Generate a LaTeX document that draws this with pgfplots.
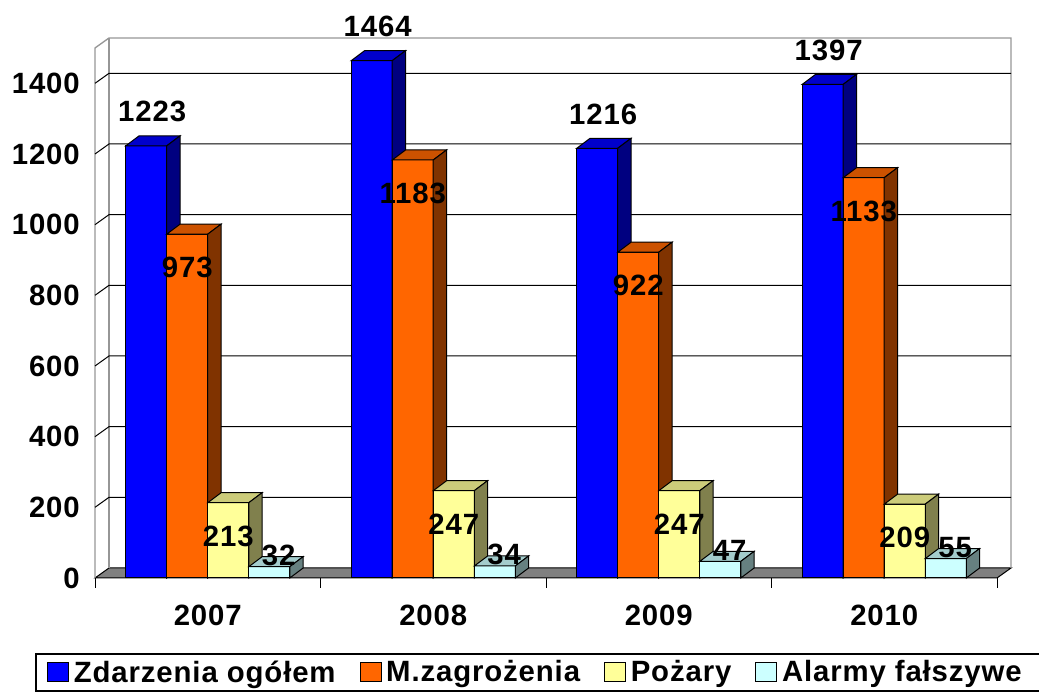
\documentclass[border=0pt]{standalone}
\usepackage{pgfplots}
\pgfplotsset{compat=1.18}
\usepackage{pgfplotstable}
\usepackage{fontspec}
\setmainfont{Liberation Sans}[LetterSpace=3]

\definecolor{fBlue}{RGB}{0,0,255}
\definecolor{tBlue}{RGB}{0,0,204}
\definecolor{sBlue}{RGB}{0,0,128}
\definecolor{fOra}{RGB}{255,102,0}
\definecolor{tOra}{RGB}{204,82,0}
\definecolor{sOra}{RGB}{128,51,0}
\definecolor{fYel}{RGB}{255,255,153}
\definecolor{tYel}{RGB}{204,204,122}
\definecolor{sYel}{RGB}{128,128,77}
\definecolor{fCya}{RGB}{204,255,255}
\definecolor{tCya}{RGB}{163,204,204}
\definecolor{sCya}{RGB}{102,128,128}
\definecolor{wallgray}{RGB}{150,150,150}
\definecolor{floorgray}{RGB}{128,128,128}

\pgfplotstableread{
idx zd mz poz al
0 1223 973 213 32
1 1464 1183 247 34
2 1216 922 247 47
3 1397 1133 209 55
}\data

\def\hw{15.375pt}
\def\dX{10pt}
\def\dY{7.5pt}
\newcommand\declarebox[4]{%
  \pgfdeclareplotmark{#1}{%
    \pgfmathsetlengthmacro\barH{\val*0.265pt}%
    \pgfsetlinewidth{0.75pt}%
    \pgfsetstrokecolor{black}%
    \pgfsetfillcolor{#2}%
    \pgfpathrectanglecorners{\pgfpoint{-\hw}{0pt}}{\pgfpoint{\hw}{-\barH}}%
    \pgfusepath{fill,stroke}%
    \pgfsetfillcolor{#4}%
    \pgfpathmoveto{\pgfpoint{-\hw}{0pt}}%
    \pgfpathlineto{\pgfpoint{-\hw+\dX}{\dY}}%
    \pgfpathlineto{\pgfpoint{\hw+\dX}{\dY}}%
    \pgfpathlineto{\pgfpoint{\hw}{0pt}}%
    \pgfpathclose
    \pgfusepath{fill,stroke}%
    \pgfsetfillcolor{#3}%
    \pgfpathmoveto{\pgfpoint{\hw}{0pt}}%
    \pgfpathlineto{\pgfpoint{\hw+\dX}{\dY}}%
    \pgfpathlineto{\pgfpoint{\hw+\dX}{\dY-\barH}}%
    \pgfpathlineto{\pgfpoint{\hw}{-\barH}}%
    \pgfpathclose
    \pgfusepath{fill,stroke}%
  }}
\declarebox{boxA}{fBlue}{sBlue}{tBlue}
\declarebox{boxB}{fOra}{sOra}{tOra}
\declarebox{boxC}{fYel}{sYel}{tYel}
\declarebox{boxD}{fCya}{sCya}{tCya}

\newcommand\lblfont{\fontsize{22}{26}\selectfont\bfseries}

\begin{document}
\begin{tikzpicture}
\useasboundingbox (0,0) rectangle (779.25pt,521.25pt);
\begin{axis}[
  at={(71.25pt,87.75pt)}, anchor=south west,
  scale only axis, width=676.5pt, height=397.5pt,
  xmin=0, xmax=4, ymin=0, ymax=1500,
  clip=false,
  axis line style={draw=none},
  major tick style={draw=none},
  ytick={0,200,...,1400},
  xtick={0.5,1.5,2.5,3.5},
  xticklabels={2007,2008,2009,2010},
  tick label style={font=\lblfont},
  yticklabel style={anchor=east, inner sep=0pt, xshift=-11.25pt},
  xticklabel style={anchor=center, inner sep=0pt, yshift=-27.75pt},
  /pgf/number format/.cd, 1000 sep={}, assume math mode=true, /pgfplots/.cd,
  every node near coord/.append style={font=\lblfont, anchor=center, inner sep=0pt},
  legend columns=4,
  legend style={at={(axis description cs:-0.0665,-0.1415)}, anchor=north west,
    draw=black, line width=1.3pt, font=\fontsize{22}{26}\selectfont\bfseries,
    inner xsep=8.5pt, inner ysep=5pt,
    nodes={inner sep=0pt},
    /tikz/every odd column/.append style={column sep=3.5pt},
    /tikz/every even column/.append style={column sep=18pt}},
  legend image code/.code={\draw[#1, line width=0.75pt] (0pt,-7.1pt) rectangle (15.75pt,7.1pt);},
  scatter/use mapped color={draw=black, fill=black},
]
% floor
\filldraw[fill=floorgray, draw=black, line width=0.75pt] (axis cs:0,0) -- (axis cs:4,0)
  -- ([xshift=10.5pt,yshift=7.5pt]axis cs:4,0) -- ([xshift=10.5pt,yshift=7.5pt]axis cs:0,0) -- cycle;
% walls
\draw[wallgray, line width=1pt] (axis cs:0,0) -- (axis cs:0,1500)
  -- ([xshift=10.5pt,yshift=7.5pt]axis cs:0,1500) -- ([xshift=10.5pt,yshift=7.5pt]axis cs:4,1500)
  -- ([xshift=10.5pt,yshift=7.5pt]axis cs:4,0);
\draw[wallgray, line width=1pt] ([xshift=10.5pt,yshift=7.5pt]axis cs:0,0) -- ([xshift=10.5pt,yshift=7.5pt]axis cs:0,1500);
% grid
\pgfplotsinvokeforeach{200,400,600,800,1000,1200,1400}{
  \draw[black, line width=0.75pt] (axis cs:0,#1) -- ([xshift=10.5pt,yshift=7.5pt]axis cs:0,#1)
    -- ([xshift=10.5pt,yshift=7.5pt]axis cs:4,#1);
}
% category ticks
\pgfplotsinvokeforeach{0,1,2,3,4}{
  \draw[black, line width=0.75pt] (axis cs:#1,0) -- ++(0pt,-7.5pt);
}

\addlegendimage{fill=fBlue, draw=black}
\addlegendentry{Zdarzenia ogółem}
\addlegendimage{fill=fOra, draw=black}
\addlegendentry{M.zagrożenia}
\addlegendimage{fill=fYel, draw=black}
\addlegendentry{Pożary}
\addlegendimage{fill=fCya, draw=black}
\addlegendentry{Alarmy fałszywe\hspace*{14pt}}

\addplot[forget plot, scatter, only marks, mark=boxA, visualization depends on={rawy \as \val},
  nodes near coords, every node near coord/.append style={xshift=4.5pt, yshift=25.5pt}]
  table[x expr=\thisrow{idx}+0.5-0.273, y=zd] {\data};
\addplot[forget plot, scatter, only marks, mark=boxB, visualization depends on={rawy \as \val},
  nodes near coords, every node near coord/.append style={xshift=0pt, yshift=-25pt}]
  table[x expr=\thisrow{idx}+0.5-0.091, y=mz] {\data};
\addplot[forget plot, scatter, only marks, mark=boxC, visualization depends on={rawy \as \val},
  nodes near coords, every node near coord/.append style={xshift=0pt, yshift=-25pt}]
  table[x expr=\thisrow{idx}+0.5+0.091, y=poz] {\data};
\addplot[forget plot, scatter, only marks, mark=boxD, visualization depends on={rawy \as \val},
  nodes near coords, every node near coord/.append style={xshift=7pt, yshift=8.5pt}]
  table[x expr=\thisrow{idx}+0.5+0.273, y=al] {\data};
\end{axis}
\end{tikzpicture}
\end{document}
